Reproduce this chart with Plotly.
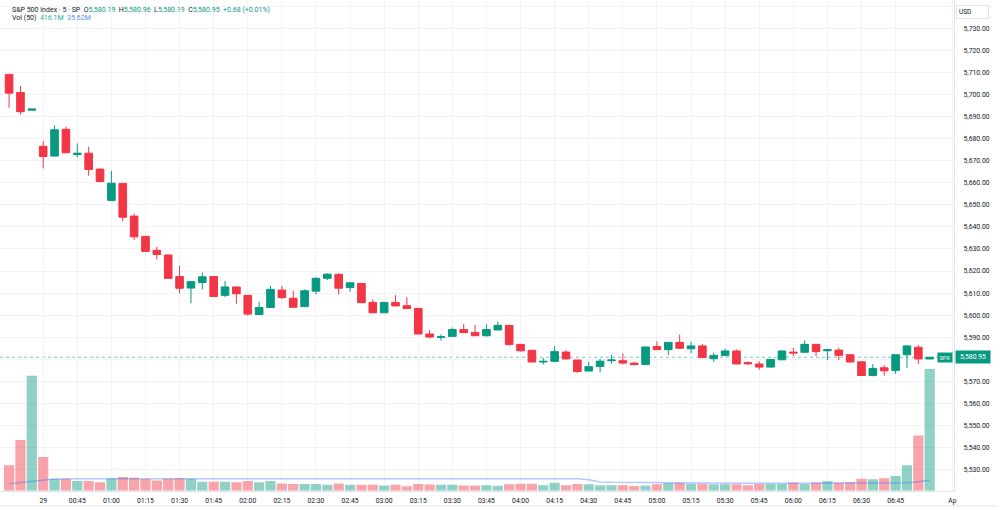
import plotly.graph_objects as go

# ---------------- data ----------------
candle_idx = list(range(82))

opens = [5709.1, 5700.9, 5692.9, 5676.5, 5672.1, 5684.2, 5672.8, 5673.4, 5666.2, 5652.0,
         5659.7, 5644.9, 5635.7, 5629.4, 5627.3, 5617.5, 5612.3, 5614.8, 5617.5, 5609.0,
         5612.8, 5609.0, 5600.3, 5603.5, 5611.4, 5607.7, 5603.9, 5610.9, 5616.7, 5618.5,
         5612.5, 5614.4, 5605.8, 5601.1, 5605.8, 5604.3, 5603.1, 5591.5, 5590.0, 5590.4,
         5593.5, 5592.2, 5590.7, 5593.3, 5595.4, 5586.8, 5584.1, 5578.8, 5579.1, 5583.3,
         5579.7, 5574.7, 5576.8, 5579.4, 5579.4, 5578.3, 5577.7, 5585.8, 5584.4, 5587.7,
         5584.8, 5586.1, 5580.3, 5581.7, 5583.8, 5578.5, 5577.9, 5576.5, 5579.8, 5583.3,
         5583.2, 5586.8, 5583.9, 5584.2, 5582.1, 5578.9, 5572.7, 5576.2, 5575.0, 5582.1,
         5585.5, 5580.19]
highs = [5709.3, 5703.8, 5693.5, 5678.9, 5686.0, 5685.4, 5677.8, 5676.3, 5666.5, 5665.4,
         5659.9, 5646.0, 5636.0, 5631.0, 5627.5, 5622.3, 5615.5, 5619.3, 5617.7, 5615.5,
         5612.9, 5609.1, 5606.1, 5613.3, 5613.3, 5611.1, 5611.7, 5617.3, 5619.0, 5619.0,
         5614.8, 5614.5, 5607.2, 5605.9, 5609.1, 5608.1, 5603.2, 5593.3, 5591.3, 5594.4,
         5596.0, 5595.6, 5595.9, 5597.0, 5595.5, 5586.9, 5584.2, 5580.6, 5586.1, 5584.2,
         5579.8, 5578.9, 5580.2, 5582.1, 5582.7, 5578.8, 5585.7, 5588.2, 5587.8, 5591.2,
         5588.0, 5587.0, 5583.0, 5584.8, 5584.4, 5579.2, 5579.2, 5580.1, 5583.9, 5585.2,
         5588.6, 5587.0, 5584.5, 5585.3, 5582.4, 5579.3, 5577.9, 5577.4, 5582.2, 5586.5,
         5586.5, 5580.96]
lows = [5694.0, 5690.8, 5692.8, 5666.5, 5672.0, 5673.5, 5671.5, 5663.2, 5660.5, 5651.9,
        5642.5, 5634.0, 5628.8, 5625.2, 5616.6, 5609.9, 5605.4, 5611.7, 5608.4, 5608.2,
        5605.2, 5599.7, 5600.2, 5603.4, 5607.3, 5603.5, 5603.8, 5609.4, 5615.9, 5609.3,
        5610.6, 5605.6, 5601.0, 5601.0, 5604.1, 5602.9, 5591.4, 5589.5, 5588.5, 5590.3,
        5592.0, 5590.6, 5590.4, 5593.2, 5586.2, 5583.5, 5578.7, 5577.7, 5579.0, 5580.1,
        5573.9, 5574.6, 5574.1, 5578.0, 5577.7, 5577.5, 5577.6, 5584.3, 5582.1, 5584.9,
        5582.7, 5580.7, 5578.9, 5581.6, 5577.8, 5577.6, 5575.3, 5576.4, 5579.7, 5581.5,
        5583.1, 5581.5, 5579.7, 5579.7, 5578.7, 5572.6, 5572.3, 5572.6, 5573.5, 5576.2,
        5577.9, 5580.19]
closes = [5700.6, 5692.2, 5693.4, 5671.9, 5684.0, 5673.6, 5673.4, 5666.0, 5660.6, 5659.8,
          5644.4, 5635.5, 5628.9, 5627.5, 5616.7, 5612.2, 5615.2, 5617.4, 5608.5, 5612.8,
          5609.7, 5600.5, 5603.5, 5611.7, 5608.0, 5603.6, 5611.1, 5616.7, 5618.6, 5612.2,
          5614.7, 5605.7, 5601.1, 5605.8, 5604.2, 5603.0, 5591.5, 5590.1, 5590.2, 5593.5,
          5592.1, 5590.7, 5593.5, 5595.4, 5586.7, 5583.9, 5578.8, 5579.1, 5583.5, 5580.2,
          5574.5, 5576.7, 5579.2, 5579.7, 5578.3, 5577.6, 5585.6, 5584.4, 5587.7, 5585.0,
          5586.1, 5580.8, 5581.8, 5583.8, 5577.9, 5578.0, 5576.5, 5580.0, 5583.8, 5582.9,
          5586.8, 5583.5, 5584.4, 5581.8, 5578.8, 5572.7, 5575.9, 5574.8, 5582.1, 5586.1,
          5580.2, 5580.95]

# volume, millions
volumes = [87, 173, 393, 115, 40, 40, 33, 33, 28.5, 42,
           47, 44, 40, 35, 41, 43, 40, 31, 31, 31,
           28.5, 33, 28.5, 33, 25, 23, 23, 23, 20.5, 25,
           20.5, 20.5, 20.5, 18, 20.5, 15, 23, 21.5, 20.5, 20.5,
           18, 18, 19, 17, 22, 24, 24, 19, 27, 19,
           23, 22, 19, 19, 19, 16, 18, 22, 26, 26,
           24, 24, 22, 22, 22, 19, 23, 23, 23, 27,
           23, 27, 32, 27, 28.5, 41, 39, 43, 50, 87,
           189, 416.1]

# 50-period volume moving average, millions
vol_ma = ([24, 28, 34, 38, 40, 41, 41, 41] + [42] * 42 +
          [40.5, 37.5, 30, 28.5, 28, 27.5, 27, 27, 26.5, 26.5, 26] +
          [25.5] * 10 + [25] * 7 + [25.5, 27, 30.5, 35.62])

time_tick_pos = [3, 6, 9, 12, 15, 18, 21, 24, 27, 30, 33, 36, 39, 42, 45, 48, 51,
                 54, 57, 60, 63, 66, 69, 72, 75, 78, 83]
time_tick_labels = ["29", "00:45", "01:00", "01:15", "01:30", "01:45", "02:00", "02:15",
                    "02:30", "02:45", "03:00", "03:15", "03:30", "03:45", "04:00", "04:15",
                    "04:30", "04:45", "05:00", "05:15", "05:30", "05:45", "06:00", "06:15",
                    "06:30", "06:45", "Ap"]

price_ticks = [5530, 5540, 5550, 5560, 5570, 5580, 5590, 5600, 5610, 5620, 5630, 5640,
               5650, 5660, 5670, 5680, 5690, 5700, 5710, 5720, 5730, 5740]
price_tick_labels = ["" if p in (5580, 5740) else f"{p:,.2f}" for p in price_ticks]

last_price = closes[-1]
change_text = "+0.68 (+0.01%)"
vol_last_text = "416.1M"
vol_ma_text = "35.62M"

# ---------------- styling ----------------
UP = "#089981"
DOWN = "#F23645"
UP_VOL = "rgba(8,153,129,0.45)"
DOWN_VOL = "rgba(242,54,69,0.45)"
GRID = "#f0f3fa"
TXT = "#131722"
FONT = "Roboto"

vol_colors = [UP_VOL if c >= o else DOWN_VOL for o, c in zip(opens, closes)]

fig = go.Figure()

fig.add_trace(go.Bar(
    x=candle_idx, y=volumes, marker=dict(color=vol_colors, line=dict(width=0)),
    width=0.9, yaxis="y", hoverinfo="skip"))

fig.add_trace(go.Scatter(
    x=candle_idx, y=vol_ma, mode="lines", yaxis="y",
    line=dict(color="rgba(41,98,255,0.35)", width=1.5), hoverinfo="skip"))

fig.add_trace(go.Candlestick(
    x=candle_idx, open=opens, high=highs, low=lows, close=closes, yaxis="y2",
    whiskerwidth=0,
    increasing=dict(line=dict(color=UP, width=1), fillcolor=UP),
    decreasing=dict(line=dict(color=DOWN, width=1), fillcolor=DOWN)))

H = 510.0
plot_bottom_px = 490.7

fig.update_layout(
    width=1000, height=510,
    margin=dict(l=0, r=0, t=0, b=0),
    paper_bgcolor="white", plot_bgcolor="white",
    showlegend=False,
    boxgap=0.33, boxgroupgap=0,
    font=dict(family=FONT, size=7, color=TXT),
    xaxis=dict(
        domain=[0, 0.957], range=[-0.8, 83.15],
        tickmode="array", tickvals=time_tick_pos, ticktext=time_tick_labels,
        showgrid=True, gridcolor=GRID, gridwidth=1, zeroline=False,
        showline=True, linecolor="#e0e3eb", linewidth=1,
        ticks="", ticklabelstandoff=3,
        tickfont=dict(family=FONT, size=6.8, color=TXT),
        rangeslider=dict(visible=False), fixedrange=True),
    yaxis=dict(
        domain=[1 - plot_bottom_px / H, 1], range=[0, 1678],
        visible=False, showgrid=False, zeroline=False, fixedrange=True),
    yaxis2=dict(
        overlaying="y", side="right", anchor="x",
        range=[5520.5, 5742.8],
        tickmode="array", tickvals=price_ticks, ticktext=price_tick_labels,
        showgrid=True, gridcolor=GRID, gridwidth=1, zeroline=False,
        showline=True, linecolor="#e0e3eb", linewidth=1,
        ticks="", ticklabelstandoff=7,
        tickfont=dict(family=FONT, size=6.8, color=TXT), fixedrange=True),
)

# last-price dotted line
fig.add_shape(type="line", xref="paper", x0=0, x1=0.957, yref="y2",
              y0=last_price, y1=last_price, layer="below",
              line=dict(color="rgba(8,153,129,0.55)", width=1, dash="dot"))
# bottom border of the widget
fig.add_shape(type="line", xref="paper", x0=0, x1=1, yref="paper",
              y0=1 - 506 / H, y1=1 - 506 / H, line=dict(color="#e0e3eb", width=1))

G = f"<span style='color:{UP}'>"
legend1 = ("S&amp;P 500 Index · 5 · SP&nbsp;&nbsp;"
           f"O{G}{opens[-1]:,.2f}</span>&nbsp;&nbsp;"
           f"H{G}{highs[-1]:,.2f}</span>&nbsp;&nbsp;"
           f"L{G}{lows[-1]:,.2f}</span>&nbsp;&nbsp;"
           f"C{G}{closes[-1]:,.2f}</span>&nbsp;&nbsp;"
           f"{G}{change_text}</span>")
legend2 = (f"Vol (50)&nbsp;&nbsp;<span style='color:#22ab94'>{vol_last_text}</span>"
           f"&nbsp;&nbsp;<span style='color:#5b8def'>{vol_ma_text}</span>")

fig.add_annotation(x=0.01, y=1 - 10 / H, xref="paper", yref="paper",
                   xanchor="left", yanchor="middle", showarrow=False,
                   text=legend1, font=dict(family=FONT, size=7, color=TXT))
fig.add_annotation(x=0.01, y=1 - 18.5 / H, xref="paper", yref="paper",
                   xanchor="left", yanchor="middle", showarrow=False,
                   text=legend2, font=dict(family=FONT, size=7, color=TXT))

# USD box
fig.add_annotation(x=0.959, y=1 - 11.5 / H, xref="paper", yref="paper",
                   xanchor="left", yanchor="middle", showarrow=False,
                   text="USD", align="left", width=27,
                   bordercolor="#e0e3eb", borderwidth=1, borderpad=2,
                   font=dict(family=FONT, size=6.5, color=TXT))

# price tags
fig.add_annotation(x=0.956, y=last_price, xref="paper", yref="y2",
                   xanchor="right", yanchor="middle", showarrow=False,
                   text="SPX", bgcolor=UP, borderpad=1.5,
                   font=dict(family=FONT, size=5.5, color="white"))
fig.add_annotation(x=0.958, y=last_price, xref="paper", yref="y2",
                   xanchor="left", yanchor="middle", showarrow=False,
                   text=f"{last_price:,.2f}", bgcolor=UP, borderpad=2, width=30,
                   font=dict(family=FONT, size=6.8, color="white"))

fig.write_html("out.html")
